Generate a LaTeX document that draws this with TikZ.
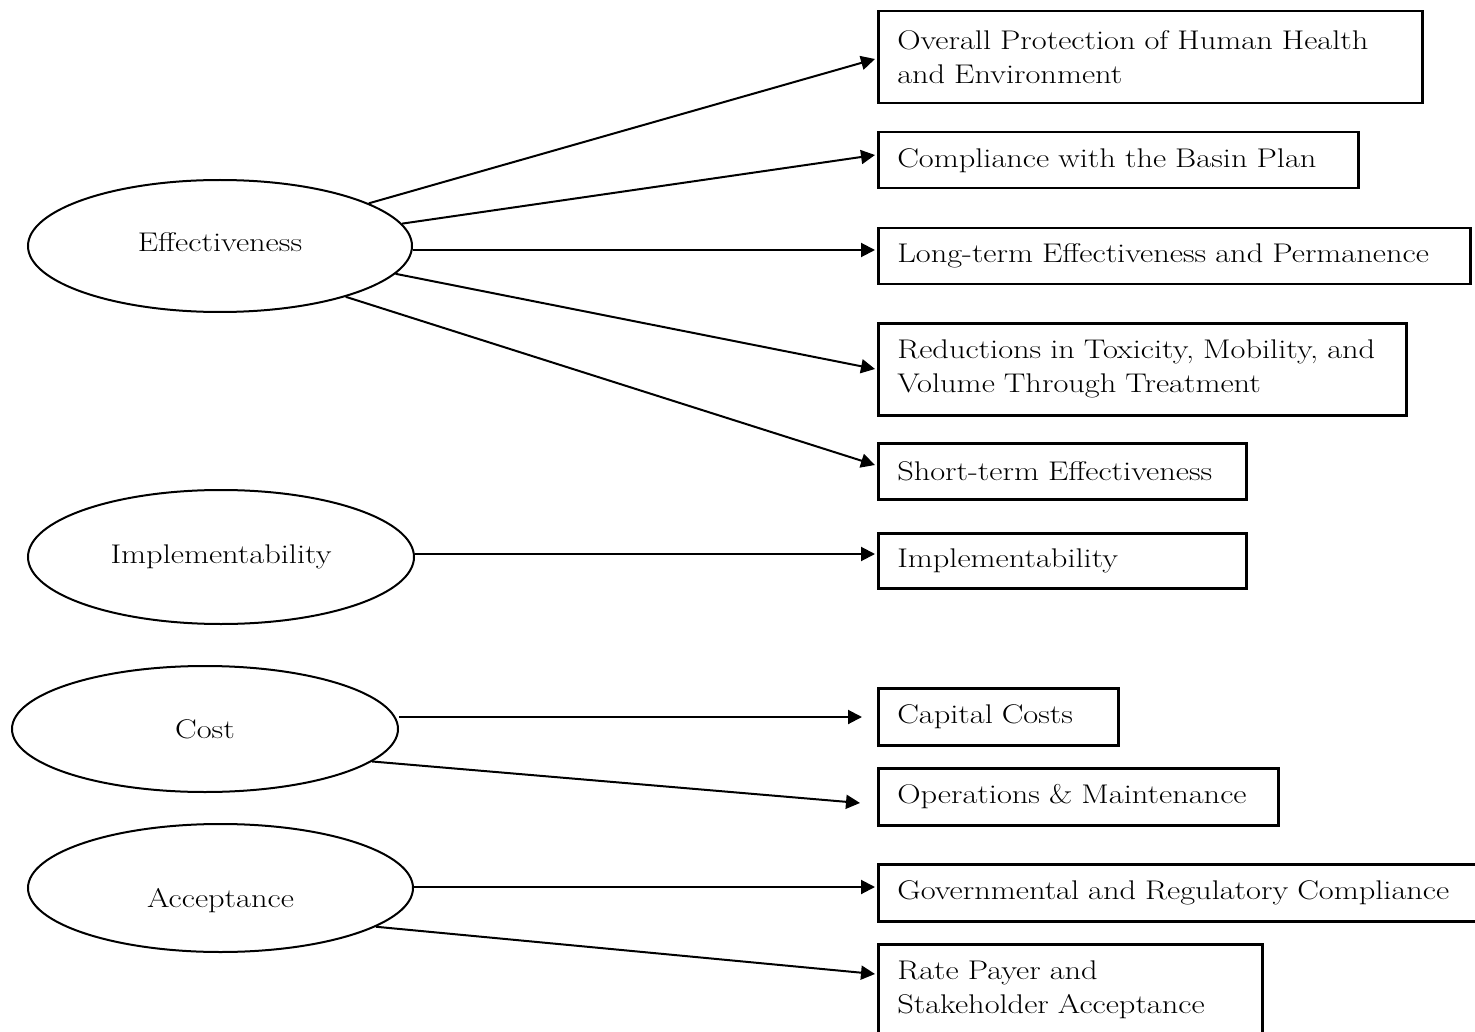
\documentclass[tikz,border=0pt]{standalone}
\usepackage{fontspec}
\setmainfont{Latin Modern Roman}[FakeStretch=1.2]
\usetikzlibrary{arrows.meta,shapes.geometric}
\begin{document}
\begin{tikzpicture}[x=1pt,y=-1pt,
  txt/.style={font=\fontsize{27}{34}\selectfont},
  oval/.style={ellipse,draw,line width=2pt,inner sep=0pt,txt},
  crit/.style={rectangle,draw,line width=2.5pt,anchor=north west,inner xsep=19pt,inner ysep=0pt,align=left,txt},
  arr/.style={line width=2pt,-{Triangle[length=14pt,width=14pt]}}]
\useasboundingbox (0,0) rectangle (1475,1032);
% ellipses
\node[oval,minimum width=384pt,minimum height=132pt,text depth=7pt] (eff) at (220,246) {Effectiveness};
\node[oval,minimum width=386pt,minimum height=134pt] (impl) at (221,557) {Implementability};
\node[oval,minimum width=386pt,minimum height=126pt] (cost) at (205,729) {Cost};
\node[oval,minimum width=385pt,minimum height=128pt,text height=44pt] (acc) at (220.5,888) {Acceptance};
% boxes
\node[crit,minimum width=544pt,text width=506pt,minimum height=92pt] (b1) at (877,10) {Overall Protection of Human Health\\and Environment};
\node[crit,minimum width=480pt,text width=442pt,minimum height=56pt] (b2) at (877,131) {Compliance with the Basin Plan};
\node[crit,minimum width=592pt,text width=554pt,minimum height=56pt] (b3) at (877,227) {Long-term Effectiveness and Permanence};
\node[crit,minimum width=528pt,text width=490pt,minimum height=92pt] (b4) at (877,322) {Reductions in Toxicity, Mobility, and\\Volume Through Treatment};
\node[crit,minimum width=368pt,text width=330pt,minimum height=56pt] (b5) at (877,442) {Short-term Effectiveness};
\node[crit,minimum width=368pt,text width=330pt,minimum height=55pt] (b6) at (877,532) {Implementability};
\node[crit,minimum width=240pt,text width=202pt,minimum height=57pt] (b7) at (877,687) {Capital Costs};
\node[crit,minimum width=400pt,text width=362pt,minimum height=57pt] (b8) at (877,767) {Operations \& Maintenance};
\node[crit,minimum width=610pt,text width=572pt,minimum height=57pt] (b9) at (877,863) {Governmental and Regulatory Compliance};
\node[crit,minimum width=384pt,text width=346pt,minimum height=92pt] (b10) at (877,943) {Rate Payer and\\Stakeholder Acceptance};
% arrow tips
\coordinate (t1) at (875,59);
\coordinate (t2) at (875,155);
\coordinate (t3) at (875,250);
\coordinate (t4) at (875,369);
\coordinate (t5) at (875,465);
\coordinate (t6) at (875,554);
\coordinate (t7) at (862,717);
\coordinate (t8) at (860,803);
\coordinate (t9) at (875,887);
\coordinate (t10) at (875,974);
% connectors
\draw[arr] (eff.16.6) -- (t1);
\draw[arr] (eff.7.1) -- (t2);
\draw[arr] (eff.east |- t3) -- (t3);
\draw[arr] (eff.-9) -- (t4);
\draw[arr] (eff.-22.2) -- (t5);
\draw[arr] (impl.east |- t6) -- (t6);
\draw[arr] (cost.east |- t7) -- (t7);
\draw[arr] (cost.-11.1) -- (t8);
\draw[arr] (acc.east |- t9) -- (t9);
\draw[arr] (acc.-14.4) -- (t10);
\end{tikzpicture}
\end{document}
